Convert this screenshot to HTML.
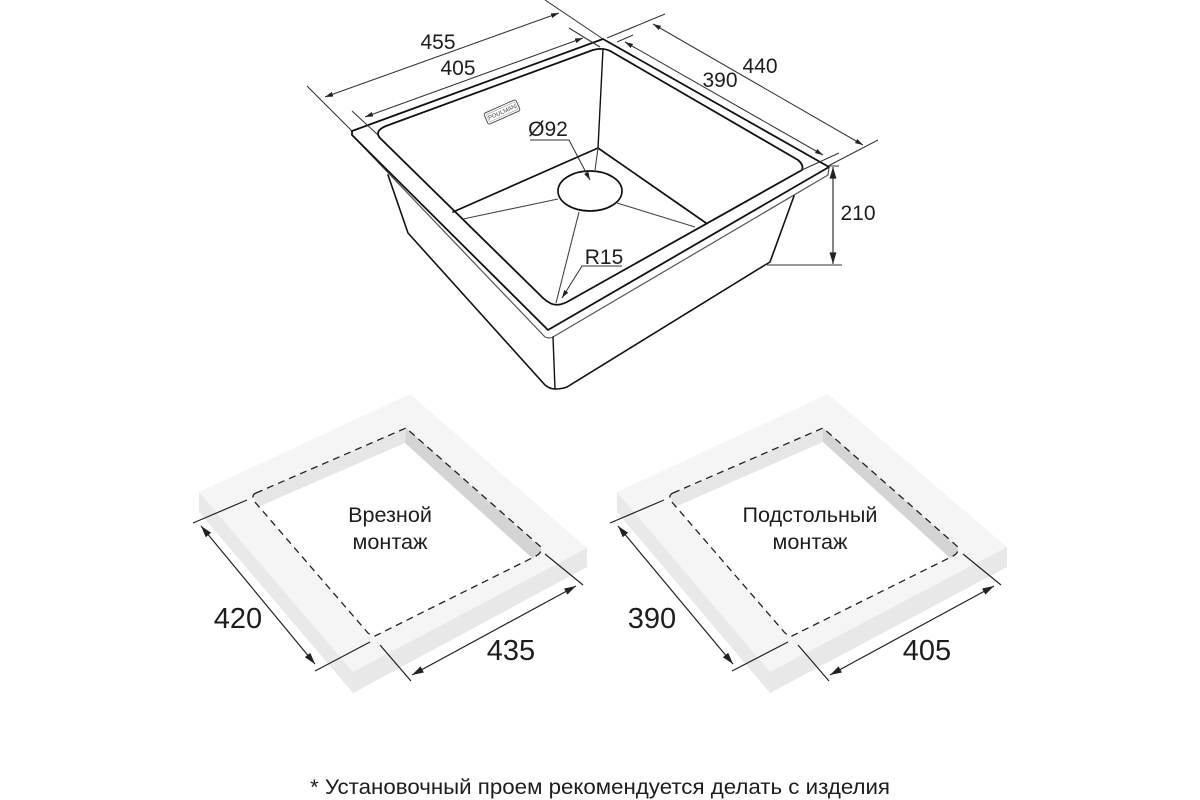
<!DOCTYPE html>
<html lang="ru"><head><meta charset="utf-8"><title>Sink</title>
<style>html,body{margin:0;padding:0;background:#fff}svg{display:block}text{font-family:"Liberation Sans",sans-serif;fill:#1d1d1d;text-anchor:middle}</style></head>
<body>
<svg width="1200" height="800" viewBox="0 0 1200 800" xmlns="http://www.w3.org/2000/svg">
<defs>
<marker id="a" viewBox="0 0 10 6" refX="10" refY="3" markerWidth="8" markerHeight="5" markerUnits="userSpaceOnUse" orient="auto-start-reverse"><path d="M0 0L10 3L0 6z" fill="#222"/></marker>
<marker id="b" viewBox="0 0 10 6" refX="10" refY="3" markerWidth="12" markerHeight="7" markerUnits="userSpaceOnUse" orient="auto-start-reverse"><path d="M0 0L10 3L0 6z" fill="#222"/></marker>
</defs>

<!-- Slabs -->
<g>
<path d="M199 492L410 394L587 548L587 567L353 693L199 512z" fill="#f5f5f5"/>
<path d="M199 492L353 672L353 693L199 512z" fill="#e9e9e9"/>
<path d="M353 672L587 548L587 567L353 693z" fill="#e8e8e8"/>
<path d="M253 495L406 428L541 548L541 553L532 558L373 636L368 633L258 507z" fill="#fff"/>
<path d="M253 495L406 428L405 443L258 507z" fill="#e6e6e6"/>
<path d="M406 428L541 548L541 553L532 558L405 443z" fill="#d4d4d4"/>
<path d="M256 493L406 428L541 547Q542 553 536 556L375 636Q372 636 368 633L254 501Q251 495 256 493z" fill="none" stroke="#222" stroke-width="1.3" stroke-dasharray="7 5"/>
</g>
<g>
<path d="M617 492L828 394L1007 547L1007 567L770 693L617 512z" fill="#f5f5f5"/>
<path d="M617 492L770 672L770 693L617 512z" fill="#e9e9e9"/>
<path d="M770 672L1007 547L1007 567L770 693z" fill="#e8e8e8"/>
<path d="M670 495L823 428L958 548L958 553L950 558L790 636L785 633L675 507z" fill="#fff"/>
<path d="M670 495L823 428L823 442L675 507z" fill="#e6e6e6"/>
<path d="M823 428L958 548L958 553L950 558L823 442z" fill="#d4d4d4"/>
<path d="M673 493L823 428L958 547Q959 553 953 556L792 636Q789 636 785 633L671 501Q668 495 673 493z" fill="none" stroke="#222" stroke-width="1.3" stroke-dasharray="7 5"/>
</g>

<!-- Slab dimensions -->
<g stroke="#222" stroke-width="1.2" fill="none">
<path d="M193 523L247 500M315 671L370 642M380 645L411 681M545 554L583 585"/>
<path d="M201 526L315 664" marker-start="url(#b)" marker-end="url(#b)"/>
<path d="M412 675L576 586" marker-start="url(#b)" marker-end="url(#b)"/>
<path d="M610 523L664 500M732 671L788 642M798 645L829 681M963 554L1001 585"/>
<path d="M618 526L733 664" marker-start="url(#b)" marker-end="url(#b)"/>
<path d="M830 675L994 586" marker-start="url(#b)" marker-end="url(#b)"/>
</g>

<!-- Sink -->
<g fill="none" stroke="#111" stroke-linejoin="round" stroke-linecap="round">
<!-- thin under rim -->
<path d="M352 135L545 337Q549 339 553 337L828 175L829 167" stroke="#555" stroke-width="1.2"/>
<!-- rim -->
<path d="M352 131L603 39L829 167L548 330L352 135z" stroke-width="1.8"/>
<!-- bowl -->
<path d="M386 126L593 50Q604 47 612 52L798 160Q804 165 802 170L567 302Q557 307 550 303Q546 301 543 298L380 138Q374 131 386 126z" stroke-width="1.8"/>
<!-- floor -->
<path d="M453 212L598 148L706 223" stroke-width="1.7"/>
<path d="M603 49L598 148" stroke-width="1.4"/>
<!-- body -->
<path d="M388 175L408 233L545 385Q550 389 555 389Q562 389 567 387L765 265L770 262L794 196" stroke-width="1.6"/>
<path d="M553 337L555 389" stroke-width="1.4"/>
<ellipse cx="590" cy="191" rx="32" ry="20" fill="#fff" stroke-width="1.7"/>
</g>
<g fill="none" stroke="#444" stroke-width="1.1">
<path d="M558 199L463 219M579 212L556 303M617 203L695 227M595 170L598 148"/>
</g>

<!-- Logo -->
<g transform="translate(502 112) rotate(-24)">
<rect x="-17.5" y="-6" width="35" height="12" rx="2" fill="#fff" stroke="#444" stroke-width="0.9"/>
<rect x="-15.5" y="-4" width="31" height="8" rx="1" fill="none" stroke="#888" stroke-width="0.5"/>
<text y="2" font-size="6" style="fill:#444">POULMAN</text>
</g>

<!-- Sink dimensions -->
<g stroke="#333" stroke-width="1.05" fill="none">
<path d="M307 86L352 131M545 0L603 39M352 111L378 135M569 28L600 47M607 38L665 14M617 42L633 35M828 166L878 140M802 170L839 153M830 166L839 166M767 265L842 265"/>
<path d="M325 97L559 13" marker-start="url(#a)" marker-end="url(#a)"/>
<path d="M365 117L583 38" marker-start="url(#a)" marker-end="url(#a)"/>
<path d="M653 24L863 145" marker-start="url(#a)" marker-end="url(#a)"/>
<path d="M625 42L823 155" marker-start="url(#a)" marker-end="url(#a)"/>
<path d="M833 167L833 264" stroke-width="1.2" marker-start="url(#b)" marker-end="url(#b)"/>
<path d="M530 140L569 140L590 180" marker-end="url(#a)"/>
<path d="M622 266L582 266L562 298" marker-end="url(#a)"/>
</g>

<!-- Labels -->
<g font-size="21">
<text x="438" y="49">455</text>
<text x="458" y="75">405</text>
<text x="720" y="87">390</text>
<text x="760" y="73">440</text>
<text x="548" y="136">Ø92</text>
<text x="604" y="264">R15</text>
<text x="858" y="220">210</text>
</g>
<g font-size="21.6">
<text x="390" y="522">Врезной</text>
<text x="390" y="549">монтаж</text>
<text x="810" y="522">Подстольный</text>
<text x="810" y="549">монтаж</text>
</g>
<g font-size="29">
<text x="238" y="628">420</text>
<text x="511" y="660">435</text>
<text x="652" y="628">390</text>
<text x="927" y="660">405</text>
</g>
<text x="600" y="794" font-size="21" textLength="580" lengthAdjust="spacingAndGlyphs">* Установочный проем рекомендуется делать с изделия</text>
</svg>
</body></html>
